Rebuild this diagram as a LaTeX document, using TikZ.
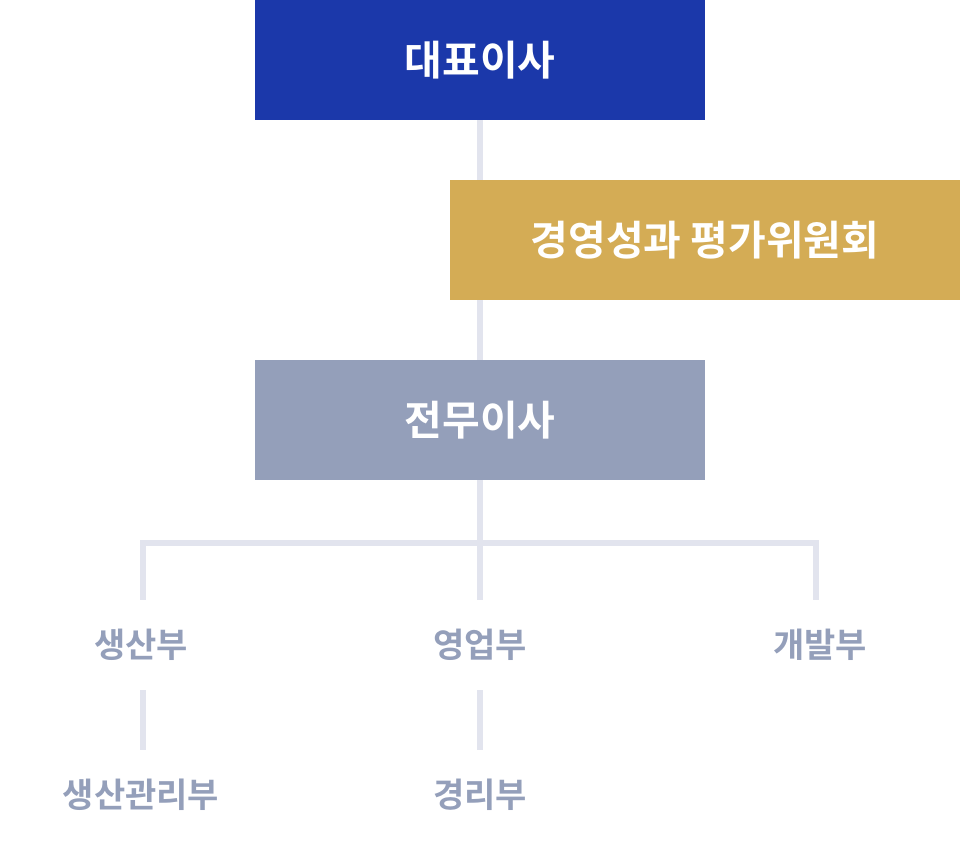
\documentclass[tikz,border=0pt]{standalone}
\usepackage{fontspec}
\newfontfamily\krfont{Noto Sans CJK KR Bold}
\definecolor{ceoblue}{HTML}{1B38AA}
\definecolor{evalgold}{HTML}{D4AC55}
\definecolor{dirgray}{HTML}{949FBA}
\definecolor{linegray}{HTML}{E2E4EE}
\begin{document}
\begin{tikzpicture}[x=1pt,y=-1pt]
      \tikzset{box/.style={minimum width=450pt, minimum height=120pt, inner sep=0pt, text=white, font=\krfont\fontsize{41}{46}\selectfont},
        dept/.style={inner sep=0pt, text=dirgray, font=\krfont\fontsize{34}{38}\selectfont},
        conn/.style={linegray, line width=6pt}}
      \useasboundingbox (0,0) rectangle (960,840);
      \draw[conn](480,120) -- (480,600);
      \node[box, fill=ceoblue] (ceo) at (480,60){대표이사};
      \node[box, fill=evalgold, minimum width=510pt] (eval) at (705,240){경영성과 평가위원회};
      \node[box, fill=dirgray] (dir) at (480,420){전무이사};
      \node[dept] (prod) at (141,645){생산부};
      \node[dept] (sales) at (480,645){영업부};
      \node[dept] (dev) at (820,645){개발부};
      \node[dept] (prodmg) at (141,795){생산관리부};
      \node[dept] (acct) at (480,795){경리부};
      \coordinate (prodtop) at (143,600);
      \coordinate (devtop) at (816,600);
      \draw[conn](prodtop) |- (480,543) -| (devtop);
      \draw[conn](143,690) -- (143,750);
      \draw[conn](480,690) -- (480,750);

    \end{tikzpicture}
\end{document}
